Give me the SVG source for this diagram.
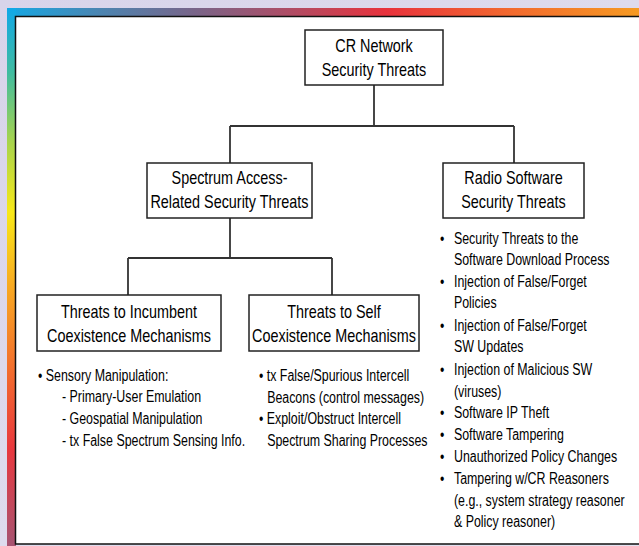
<svg xmlns="http://www.w3.org/2000/svg" width="639" height="546" viewBox="0 0 639 546">
<defs>
<linearGradient id="gTop" x1="0" y1="0" x2="1" y2="0">
<stop offset="0" stop-color="#14a8e4"/>
<stop offset="0.15" stop-color="#4c84b0"/>
<stop offset="0.3" stop-color="#7a6488"/>
<stop offset="0.45" stop-color="#b04c64"/>
<stop offset="0.6" stop-color="#e8323c"/>
<stop offset="0.8" stop-color="#f26a2e"/>
<stop offset="1" stop-color="#f69a22"/>
</linearGradient>
<linearGradient id="gLeft" x1="0" y1="0" x2="0" y2="1">
<stop offset="0" stop-color="#10a8e8"/>
<stop offset="0.12" stop-color="#40bca0"/>
<stop offset="0.25" stop-color="#a8d44c"/>
<stop offset="0.38" stop-color="#f8e818"/>
<stop offset="0.52" stop-color="#f8a822"/>
<stop offset="0.68" stop-color="#f26a2e"/>
<stop offset="0.82" stop-color="#e8383e"/>
<stop offset="1" stop-color="#a65472"/>
</linearGradient>
<linearGradient id="gBg" x1="0" y1="0" x2="1" y2="1">
<stop offset="0" stop-color="#d8d4ea"/>
<stop offset="1" stop-color="#e4e2f0"/>
</linearGradient>
</defs>
<style>
.box{fill:#ffffff;stroke:#222222;stroke-width:1.5}
.ln{fill:none;stroke:#333333;stroke-width:1.8}
.t{font-family:"Liberation Sans",Arial,sans-serif;font-size:18px;fill:#000000;text-anchor:middle}
.b{font-family:"Liberation Sans",Arial,sans-serif;font-size:16px;fill:#000000}
</style>
<rect x="0" y="0" width="639" height="546" fill="url(#gBg)"/>
<rect x="7" y="8" width="632" height="9" fill="url(#gTop)"/>
<rect x="7" y="8" width="9" height="538" fill="url(#gLeft)"/>
<rect x="15.5" y="16.5" width="630" height="527.5" fill="#ffffff" stroke="#111111" stroke-width="1.5"/>

<g id="connectors">
<path class="ln" d="M374 85 V126 M230 126 H514 M230 126 V163 M514 126 V163"/>
<path class="ln" d="M230 218 V258 M128 258 H332 M128 258 V295 M332 258 V295"/>
</g>

<g id="n-root">
<rect class="box" x="305" y="30" width="138" height="55"/>
<g transform="translate(374,0) scale(0.8,1)">
<text class="t" x="0" y="52">CR Network</text>
<text class="t" x="0" y="76">Security Threats</text>
</g>
</g>

<g id="n-spectrum">
<rect class="box" x="147" y="163" width="165" height="55"/>
<g transform="translate(229.5,0) scale(0.8,1)">
<text class="t" x="0" y="184">Spectrum Access-</text>
<text class="t" x="0" y="208">Related Security Threats</text>
</g>
</g>

<g id="n-radio">
<rect class="box" x="443" y="163" width="141" height="55"/>
<g transform="translate(513.5,0) scale(0.8,1)">
<text class="t" x="0" y="184">Radio Software</text>
<text class="t" x="0" y="208">Security Threats</text>
</g>
</g>

<g id="n-incumbent">
<rect class="box" x="37" y="295" width="184" height="56"/>
<g transform="translate(129,0) scale(0.8,1)">
<text class="t" x="0" y="318">Threats to Incumbent</text>
<text class="t" x="0" y="342">Coexistence Mechanisms</text>
</g>
</g>

<g id="n-self">
<rect class="box" x="249" y="295" width="170" height="56"/>
<g transform="translate(334,0) scale(0.8,1)">
<text class="t" x="0" y="318">Threats to Self</text>
<text class="t" x="0" y="342">Coexistence Mechanisms</text>
</g>
</g>

<g id="list-incumbent" transform="translate(38,0) scale(0.775,1)">
<text class="b" x="0" y="381">• Sensory Manipulation:</text>
<text class="b" x="31" y="402">- Primary-User Emulation</text>
<text class="b" x="31" y="424">- Geospatial Manipulation</text>
<text class="b" x="31" y="446">- tx False Spectrum Sensing Info.</text>
</g>

<g id="list-self" transform="translate(259,0) scale(0.775,1)">
<text class="b" x="0" y="381">• tx False/Spurious Intercell</text>
<text class="b" x="10.5" y="403">Beacons (control messages)</text>
<text class="b" x="0" y="424">• Exploit/Obstruct Intercell</text>
<text class="b" x="10.5" y="446">Spectrum Sharing Processes</text>
</g>

<g id="list-radio" transform="translate(440,0) scale(0.775,1)">
<text class="b" x="0" y="244">•</text><text class="b" x="18" y="244">Security Threats to the</text>
<text class="b" x="18" y="265">Software Download Process</text>
<text class="b" x="0" y="287">•</text><text class="b" x="18" y="287">Injection of False/Forget</text>
<text class="b" x="18" y="308">Policies</text>
<text class="b" x="0" y="331">•</text><text class="b" x="18" y="331">Injection of False/Forget</text>
<text class="b" x="18" y="352">SW Updates</text>
<text class="b" x="0" y="375">•</text><text class="b" x="18" y="375">Injection of Malicious SW</text>
<text class="b" x="18" y="397">(viruses)</text>
<text class="b" x="0" y="418">•</text><text class="b" x="18" y="418">Software IP Theft</text>
<text class="b" x="0" y="440">•</text><text class="b" x="18" y="440">Software Tampering</text>
<text class="b" x="0" y="462">•</text><text class="b" x="18" y="462">Unauthorized Policy Changes</text>
<text class="b" x="0" y="484">•</text><text class="b" x="18" y="484">Tampering w/CR Reasoners</text>
<text class="b" x="18" y="506">(e.g., system strategy reasoner</text>
<text class="b" x="18" y="527">&amp; Policy reasoner)</text>
</g>
</svg>
